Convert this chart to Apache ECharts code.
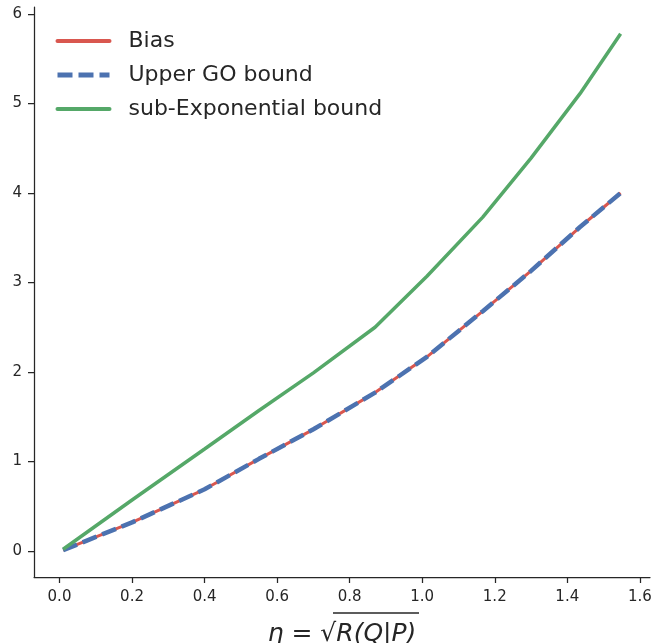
<!DOCTYPE html>
<html><head><meta charset="utf-8">
<script src="https://cdn.jsdelivr.net/npm/echarts@6/dist/echarts.min.js"></script>
<style>html,body{margin:0;padding:0;background:#fff}#c{width:652px;height:643px}</style>
</head><body><div id="c"></div>
<script>
const eta = [0.01, 0.2, 0.4, 0.55, 0.7, 0.87, 1.013, 1.167, 1.30, 1.435, 1.547];
const bias = [0.01, 0.32, 0.69, 1.03, 1.36, 1.77, 2.17, 2.68, 3.13, 3.62, 4.0];
const upperGO = [0.01, 0.32, 0.69, 1.03, 1.36, 1.77, 2.17, 2.68, 3.13, 3.62, 4.0];
const subExp = [0.02, 0.57, 1.14, 1.57, 1.99, 2.50, 3.07, 3.73, 4.39, 5.11, 5.78];
const xTicks = [0.0, 0.2, 0.4, 0.6, 0.8, 1.0, 1.2, 1.4, 1.6];
const yTicks = [0, 1, 2, 3, 4, 5, 6];
const names = ['Bias', 'Upper GO bound', 'sub-Exponential bound'];

const pair = (xs, ys) => xs.map((x, i) => [x, ys[i]]);
const dark = '#262626';
const font = 'DejaVu Sans';
const cRed = '#d9574f', cBlue = '#4c72b0', cGreen = '#55a868';
const chart = echarts.init(document.getElementById('c'));
chart.setOption({
  animation: false,
  backgroundColor: '#fff',
  grid: {left: 34, right: 2, top: 7, bottom: 66, containLabel: false, outerBoundsMode: 'none'},
  legend: {
    left: 50, top: 25, orient: 'vertical', itemGap: 12,
    itemWidth: 52, itemHeight: 22,
    itemStyle: {opacity: 0},
    textStyle: {fontFamily: font, fontSize: 22, color: dark, padding: [0, 0, 0, 14]},
    data: [
      {name: names[0], lineStyle: {width: 4, color: cRed, cap: 'round'}},
      {name: names[1], lineStyle: {width: 5, color: cBlue, type: [15, 6]}},
      {name: names[2], lineStyle: {width: 4, color: cGreen, cap: 'round'}}
    ]
  },
  xAxis: {
    type: 'value', min: -0.0703, max: 1.628,
    splitLine: {show: false},
    axisLine: {show: true, onZero: false, lineStyle: {color: dark, width: 1.25}},
    axisTick: {show: true, length: 6, customValues: xTicks, lineStyle: {color: dark, width: 1.25}},
    axisLabel: {customValues: xTicks, margin: 13, fontFamily: font, fontSize: 15, color: dark,
      formatter: v => v.toFixed(1)},
    name: '{a|η}{b| = √}{a|R(Q|P)}', nameLocation: 'middle', nameGap: 45,
    nameTextStyle: {rich: {
      a: {fontFamily: 'DejaVu Sans', fontStyle: 'italic', fontSize: 25, color: dark},
      b: {fontFamily: 'DejaVu Sans', fontSize: 25, color: dark}
    }}
  },
  yAxis: {
    type: 'value', min: -0.29, max: 6.078,
    splitLine: {show: false},
    axisLine: {show: true, onZero: false, lineStyle: {color: dark, width: 1.25}},
    axisTick: {show: true, length: 6, customValues: yTicks, lineStyle: {color: dark, width: 1.25}},
    axisLabel: {customValues: yTicks, margin: 12, fontFamily: font, fontSize: 15, color: dark}
  },
  graphic: [{type: 'line', shape: {x1: 333, y1: 613, x2: 419, y2: 613}, style: {stroke: dark, lineWidth: 1.5}}],
  series: [
    {name: names[0], type: 'line', data: pair(eta, bias), symbol: 'none', color: cRed,
      lineStyle: {width: 3, color: cRed}},
    {name: names[1], type: 'line', data: pair(eta, upperGO), symbol: 'none', color: cBlue,
      lineStyle: {width: 4.5, color: cBlue, type: [15, 6]}},
    {name: names[2], type: 'line', data: pair(eta, subExp), symbol: 'none', color: cGreen,
      lineStyle: {width: 3.5, color: cGreen}}
  ]
});
</script></body></html>
